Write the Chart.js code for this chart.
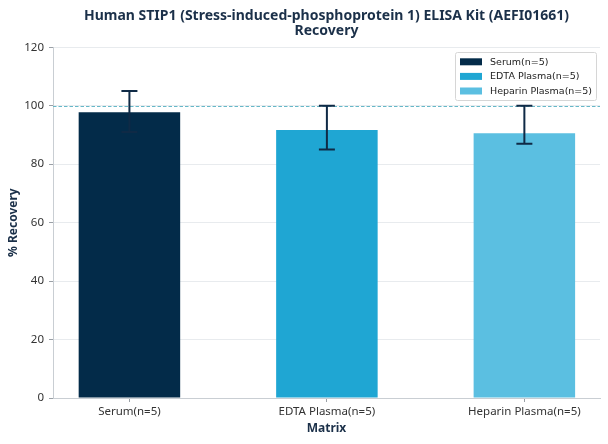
<!DOCTYPE html>
<html>
<head>
<meta charset="utf-8">
<script src="https://cdn.jsdelivr.net/npm/chart.js@4.4.1/dist/chart.umd.min.js"></script>
<style>
  html, body { margin: 0; padding: 0; background: #ffffff; }
  #wrap { width: 608px; height: 444px; }
</style>
</head>
<body>
<div id="wrap"><canvas id="c" width="608" height="444"></canvas></div>
<script>
const categories = ['Serum(n=5)', 'EDTA Plasma(n=5)', 'Heparin Plasma(n=5)'];
const recovery = [97.8, 91.7, 90.6];
const errLow = [91, 85, 87];
const errHigh = [105, 100, 100];
const yTicks = [0, 20, 40, 60, 80, 100, 120];
const referenceLine = 100;
const barColors = ['#032b49', '#1fa6d3', '#5bbfe1'];

const datasets = categories.map((c, i) => ({
  label: c,
  data: [{ x: i, y: recovery[i] }],
  backgroundColor: barColors[i],
  borderWidth: 0,
  grouped: false,
  categoryPercentage: 1,
  barPercentage: 0.514
}));

const refLinePlugin = {
  id: 'refLine',
  beforeDatasetsDraw(chart) {
    const { ctx, chartArea, scales } = chart;
    const y = Math.round(scales.y.getPixelForValue(referenceLine)) + 0.5;
    ctx.save();
    ctx.strokeStyle = '#66b8c8';
    ctx.lineWidth = 1;
    ctx.setLineDash([3.5, 2]);
    ctx.beginPath();
    ctx.moveTo(chartArea.left, y);
    ctx.lineTo(chartArea.right, y);
    ctx.stroke();
    ctx.restore();
  }
};

const errorBarPlugin = {
  id: 'errorBars',
  afterDatasetsDraw(chart) {
    const { ctx, scales } = chart;
    ctx.save();
    ctx.strokeStyle = '#0f2a46';
    ctx.lineWidth = 2;
    categories.forEach((c, i) => {
      const x = scales.x.getPixelForValue(i);
      const yLo = scales.y.getPixelForValue(errLow[i]);
      const yHi = scales.y.getPixelForValue(errHigh[i]);
      ctx.beginPath();
      ctx.moveTo(x, yLo); ctx.lineTo(x, yHi);
      ctx.moveTo(x - 8, yHi); ctx.lineTo(x + 8, yHi);
      ctx.moveTo(x - 8, yLo); ctx.lineTo(x + 8, yLo);
      ctx.stroke();
    });
    ctx.restore();
  }
};

const legendPlugin = {
  id: 'boxLegend',
  afterDraw(chart) {
    const { ctx } = chart;
    const ds = chart.data.datasets;
    const bx = 455.5, by = 52.5, bw = 141, bh = 48;
    ctx.save();
    ctx.fillStyle = 'rgba(255,255,255,0.85)';
    ctx.strokeStyle = '#d6d6d6';
    ctx.lineWidth = 1;
    ctx.beginPath();
    ctx.roundRect(bx, by, bw, bh, 2);
    ctx.fill();
    ctx.stroke();
    ctx.font = '9.5px "DejaVu Sans"';
    ctx.textBaseline = 'middle';
    ds.forEach((d, i) => {
      const cy = 61.8 + i * 14.6;
      ctx.fillStyle = d.backgroundColor;
      ctx.fillRect(460, cy - 3.5, 22, 7);
      ctx.fillStyle = '#222222';
      ctx.fillText(d.label, 490, cy + 0.5);
    });
    ctx.restore();
  }
};

new Chart(document.getElementById('c'), {
  type: 'bar',
  data: { datasets },
  options: {
    responsive: false,
    animation: false,
    devicePixelRatio: 1,
    layout: { padding: { left: 0, right: 8, top: 0, bottom: 0 } },
    plugins: {
      legend: { display: false },
      tooltip: { enabled: false },
      title: {
        display: true,
        fullSize: false,
        text: ['Human STIP1 (Stress-induced-phosphoprotein 1) ELISA Kit (AEFI01661)', 'Recovery'],
        color: '#1b3049',
        font: { family: '"Noto Sans"', size: 14, weight: 'bold', lineHeight: 1.08 },
        padding: { top: 8.5, bottom: 8.5 }
      }
    },
    scales: {
      x: {
        type: 'linear',
        offset: false,
        min: -0.387,
        max: 2.383,
        afterBuildTicks(scale) { scale.ticks = categories.map((c, i) => ({ value: i })); },
        afterFit(scale) { scale.height = 46; },
        ticks: {
          callback: (v) => categories[v],
          color: '#333333',
          font: { family: '"Noto Sans"', size: 11.5 },
          padding: 3,
          maxRotation: 0,
          autoSkip: false
        },
        grid: { offset: false, drawOnChartArea: false, drawTicks: true, tickLength: 4, tickColor: '#9aa0a6', tickWidth: 1 },
        border: { display: true, color: '#c9ced3', width: 1 },
        title: {
          display: true,
          text: 'Matrix',
          color: '#1b3049',
          font: { family: '"Noto Sans"', size: 12, weight: 'bold' },
          padding: { top: 0, bottom: 8 }
        }
      },
      y: {
        min: 0,
        max: 120,
        afterBuildTicks(scale) { scale.ticks = yTicks.map(v => ({ value: v })); },
        afterFit(scale) { scale.width = 53; },
        ticks: {
          color: '#333333',
          font: { family: '"Noto Sans"', size: 11.5 },
          padding: 5
        },
        grid: { color: '#e8ebee', lineWidth: 1, drawTicks: true, tickLength: 4, tickColor: '#9aa0a6' },
        border: { display: true, color: '#c9ced3', width: 1 },
        title: {
          display: true,
          text: '% Recovery',
          color: '#1b3049',
          font: { family: '"Noto Sans"', size: 12, weight: 'bold' },
          padding: { top: 6, bottom: 0 }
        }
      }
    }
  },
  plugins: [refLinePlugin, errorBarPlugin, legendPlugin]
});
</script>
</body>
</html>
